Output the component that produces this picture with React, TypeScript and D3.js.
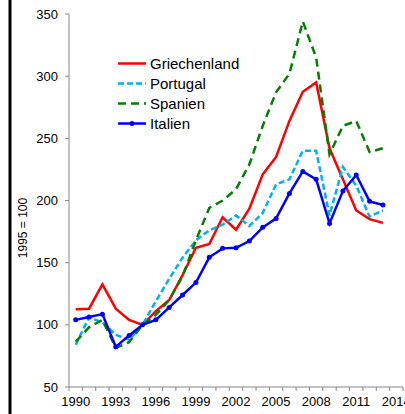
import React from "react";
import * as d3 from "d3";

const years = d3.range(1990, 2015).map(String);
const dataYears = d3.range(1990, 2014).map(String);
const xTickLabels = ["1990", "1993", "1996", "1999", "2002", "2005", "2008", "2011", "2014"];
const yTicks = [50, 100, 150, 200, 250, 300, 350];

const griechenland = [112.5, 113, 132.5, 113, 104, 100, 111, 120, 140, 162, 165, 186.5, 176.5, 193.5, 221, 235, 264, 287.5, 295, 242, 217, 192, 185, 182];
const portugal = [84, 106, 102, 92, 88, 100, 119, 137, 154, 168, 176, 180.5, 188, 179.5, 190, 213, 217, 240, 240, 188, 227, 212, 187, 192];
const spanien = [86.5, 98, 104, 81.5, 86, 100, 108, 120, 139, 168, 194, 200, 209, 229, 260, 287, 302, 344, 315, 237, 260, 264, 239, 242];
const italien = [104, 106.3, 108.6, 82.3, 91.5, 100, 104, 114, 124, 134, 154.3, 161.5, 162, 167.4, 178.4, 185.6, 205.7, 223.4, 217, 181.6, 207.6, 220.5, 199.3, 196.4];

const seriesNames = ["Griechenland", "Portugal", "Spanien", "Italien"];
const seriesValues = [griechenland, portugal, spanien, italien];
const seriesColors = ["#FF0000", "#00B0F0", "#008000", "#0000FF"];
const seriesDash = [null, "6,3", "8,5", null];
const seriesMarker = [false, false, false, true];

const FONT = "Arial, 'Liberation Sans', sans-serif";

export default function App() {
  const W = 405, H = 414;
  const left = 69, right = 403, top = 14, bottom = 387;
  const x = d3.scaleBand<string>().domain(years).range([left, right]).padding(0);
  const y = d3.scaleLinear().domain([50, 350]).range([bottom, top]);
  const cx = (yr: string) => (x(yr) as number) + x.bandwidth() / 2;
  const line = d3
    .line<number>()
    .x((_, i) => cx(dataYears[i]))
    .y((d) => y(d));

  const boundaries = years.map((yr) => x(yr) as number).concat([right]);

  return (
    <svg width={W} height={H} style={{ position: "absolute", left: 0, top: 0, background: "#fff" }}>
      <rect x={0} y={0} width={W} height={H} fill="#fff" />
      <line x1={10} x2={10} y1={0} y2={H} stroke="#000" strokeWidth={3} />
      {/* y axis */}
      <line x1={left} x2={left} y1={top} y2={bottom} stroke="#868686" strokeWidth={1} />
      {yTicks.map((t) => (
        <g key={t}>
          <line x1={left - 4} x2={left} y1={y(t)} y2={y(t)} stroke="#868686" />
          <text x={left - 11} y={y(t)} dy="0.35em" textAnchor="end" fontSize={13} fontFamily={FONT} fill="#000">
            {t}
          </text>
        </g>
      ))}
      {/* x axis */}
      <line x1={left} x2={right} y1={bottom} y2={bottom} stroke="#868686" strokeWidth={1} />
      {boundaries.map((b, i) => (
        <line key={i} x1={b} x2={b} y1={bottom} y2={bottom + 4} stroke="#868686" />
      ))}
      {xTickLabels.map((lab) => (
        <text key={lab} x={cx(lab)} y={406} textAnchor="middle" fontSize={13} fontFamily={FONT} fill="#000">
          {lab}
        </text>
      ))}
      <text
        transform={`translate(27,228) rotate(-90)`}
        textAnchor="middle"
        fontSize={12}
        fontFamily={FONT}
        fill="#000"
      >
        1995 = 100
      </text>
      {/* series */}
      {seriesValues.map((vals, si) => (
        <g key={si}>
          <path
            d={line(vals) || ""}
            fill="none"
            stroke={seriesColors[si]}
            strokeWidth={2.5}
            strokeDasharray={seriesDash[si] || undefined}
            strokeLinejoin="miter"
          />
          {seriesMarker[si] &&
            vals.map((v, i) => (
              <circle key={i} cx={cx(dataYears[i])} cy={y(v)} r={2.5} fill={seriesColors[si]} />
            ))}
        </g>
      ))}
      {/* legend */}
      {seriesNames.map((n, i) => {
        const ly = 63.5 + i * 20;
        return (
          <g key={n}>
            <line
              x1={118}
              x2={146}
              y1={ly}
              y2={ly}
              stroke={seriesColors[i]}
              strokeWidth={2.5}
              strokeDasharray={seriesDash[i] || undefined}
            />
            {seriesMarker[i] && <circle cx={132} cy={ly} r={2.5} fill={seriesColors[i]} />}
            <text x={150} y={ly} dy="0.36em" fontSize={15} fontFamily={FONT} fill="#000">
              {n}
            </text>
          </g>
        );
      })}
    </svg>
  );
}
